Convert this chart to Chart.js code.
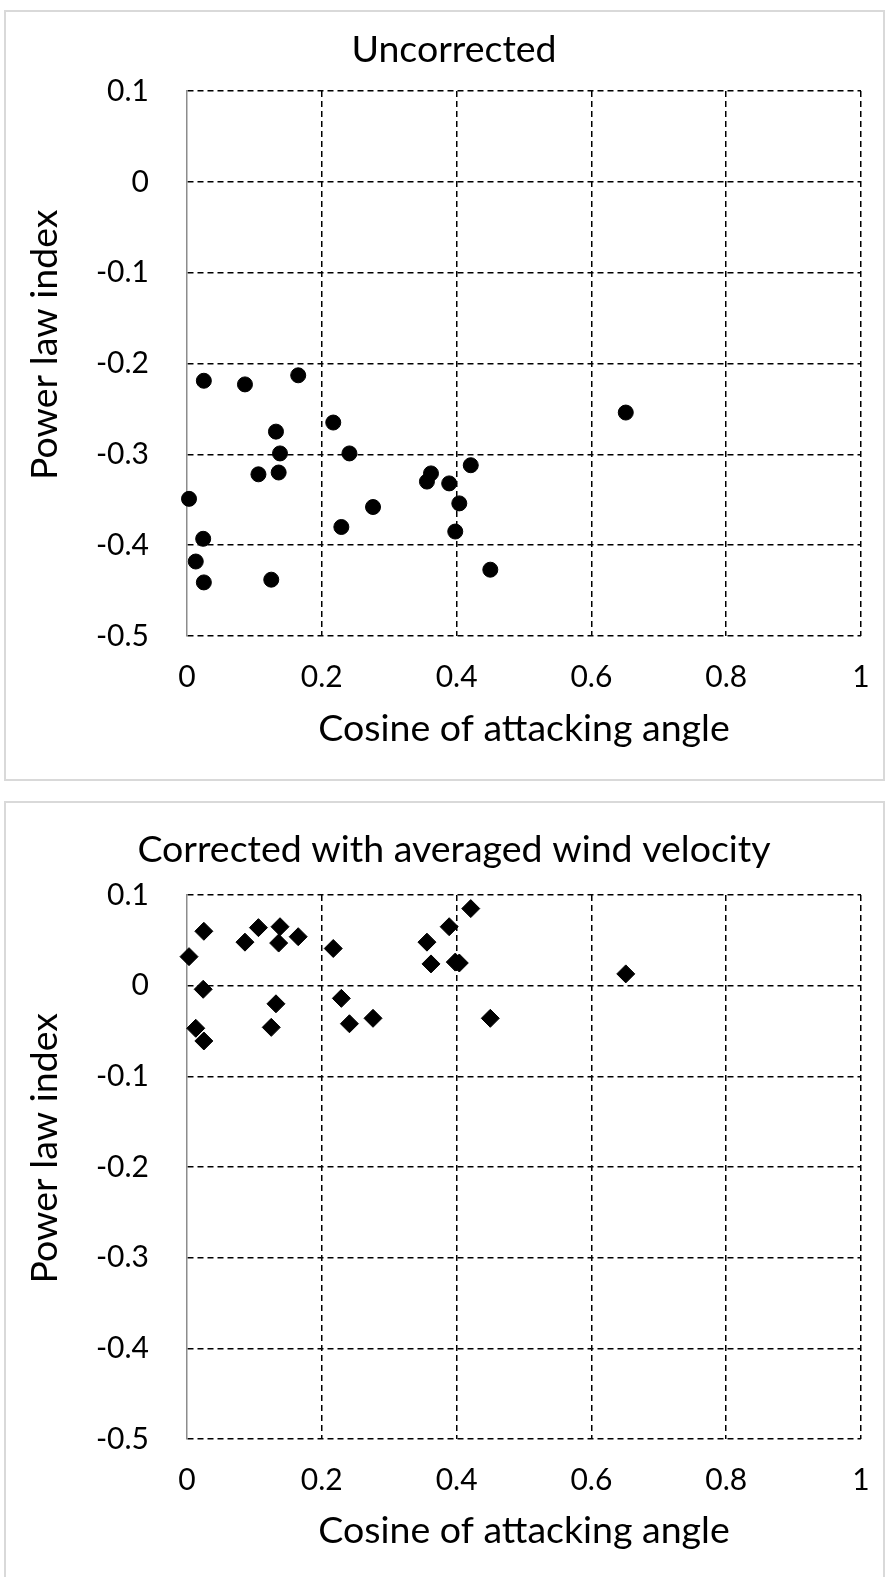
<!DOCTYPE html>
<html lang="en">
<head>
<meta charset="UTF-8">
<title>Power law index vs cosine of attacking angle</title>
<script src="https://cdn.jsdelivr.net/npm/chart.js"></script>
<style>
  body { margin: 0; background: #ffffff; font-family: Lato, sans-serif; }
  .card { position: absolute; left: 4px; width: 877px; border: 2px solid #d9d9d9; background: #ffffff; }
  #card1 { top: 10px; height: 767px; }
  #card2 { top: 801px; height: 777px; }
  canvas { display: block; }
</style>
</head>
<body>
<div class="card" id="card1"><canvas id="uncorrected" width="877" height="767"></canvas></div>
<div class="card" id="card2"><canvas id="corrected" width="877" height="777"></canvas></div>
<script>
// cosine of attacking angle, shared by both panels
const cosAngle = [0.003, 0.013, 0.024, 0.025, 0.025, 0.086, 0.106, 0.125, 0.132, 0.136, 0.138, 0.165,
                  0.217, 0.229, 0.241, 0.276, 0.356, 0.362, 0.389, 0.398, 0.404, 0.421, 0.450, 0.651];
const indexUncorrected = [-0.349, -0.418, -0.393, -0.219, -0.441, -0.223, -0.322, -0.438, -0.275, -0.320, -0.299, -0.213,
                          -0.265, -0.380, -0.299, -0.358, -0.330, -0.321, -0.332, -0.385, -0.354, -0.312, -0.427, -0.254];
const indexCorrected = [0.032, -0.047, -0.004, 0.060, -0.061, 0.048, 0.064, -0.046, -0.020, 0.047, 0.065, 0.054,
                        0.041, -0.014, -0.042, -0.036, 0.048, 0.024, 0.065, 0.026, 0.025, 0.085, -0.036, 0.013];

const xTicks = [0, 0.2, 0.4, 0.6, 0.8, 1];
const xTickLabels = ['0', '0.2', '0.4', '0.6', '0.8', '1'];
const yTicks = [-0.5, -0.4, -0.3, -0.2, -0.1, 0, 0.1];
const yTickLabels = ['-0.5', '-0.4', '-0.3', '-0.2', '-0.1', '0', '0.1'];

const textColor = '#000000';
const gridDash = [6, 4];

function makeChart(id, title, values, style, radius, lay) {
    const ctx = document.getElementById(id).getContext('2d');
    const points = cosAngle.map((x, i) => ({ x: x, y: values[i] }));
    return new Chart(ctx, {
        type: 'scatter',
        data: {
            datasets: [{
                data: points,
                pointStyle: style,
                pointRadius: radius,
                pointBackgroundColor: '#000000',
                pointBorderColor: '#000000',
                pointBorderWidth: 1,
                clip: false
            }]
        },
        options: {
            responsive: false,
            animation: false,
            layout: { padding: { left: 41, right: 22, top: 0, bottom: 0 } },
            scales: {
                x: {
                    type: 'linear',
                    min: 0,
                    max: 1,
                    afterBuildTicks: axis => { axis.ticks = xTicks.map(v => ({ value: v })); },
                    afterFit: axis => {
                        axis.height = lay.xHeight;
                        axis.paddingLeft = 0;
                        axis.paddingRight = 0;
                    },
                    grid: {
                        color: c => (c.tick && c.tick.value === 0) ? 'rgba(0,0,0,0)' : '#000000',
                        lineWidth: 1.5,
                        drawTicks: false
                    },
                    border: { display: false, dash: gridDash },
                    ticks: {
                        color: textColor,
                        font: { family: 'Lato', size: 30 },
                        padding: 23,
                        maxRotation: 0,
                        callback: v => xTickLabels[xTicks.indexOf(v)]
                    },
                    title: {
                        display: true,
                        text: 'Cosine of attacking angle',
                        color: textColor,
                        font: { family: 'Lato', size: 37.5 },
                        padding: { top: 0, bottom: lay.xTitlePad }
                    }
                },
                y: {
                    type: 'linear',
                    min: -0.5,
                    max: 0.1,
                    afterBuildTicks: axis => { axis.ticks = yTicks.map(v => ({ value: v })); },
                    afterFit: axis => { axis.width = 140; },
                    grid: {
                        color: '#000000',
                        lineWidth: 1.5,
                        drawTicks: false
                    },
                    border: { display: true, color: '#8c8c8c', width: 1.5, dash: gridDash },
                    ticks: {
                        color: textColor,
                        font: { family: 'Lato', size: 30 },
                        padding: 38,
                        callback: v => yTickLabels[yTicks.indexOf(v)]
                    },
                    title: {
                        display: true,
                        // leading en spaces nudge the title up, as in the original
                        text: '\u2002\u2002Power law index',
                        color: textColor,
                        font: { family: 'Lato', size: 37.5 },
                        padding: { top: -24.5, bottom: 0 }
                    }
                }
            },
            plugins: {
                legend: { display: false },
                tooltip: { enabled: false },
                title: {
                    display: true,
                    text: title,
                    color: textColor,
                    font: { family: 'Lato', size: 37.5, weight: 'normal' },
                    padding: { top: lay.titleTop, bottom: lay.titleBottom }
                }
            }
        }
    });
}

makeChart('uncorrected', 'Uncorrected', indexUncorrected, 'circle', 7.5,
    { xHeight: 143, xTitlePad: 27.5, titleTop: 15.5, titleBottom: 18.5 });
makeChart('corrected', 'Corrected with averaged wind velocity', indexCorrected, 'rectRot', 9,
    { xHeight: 141, xTitlePad: 27, titleTop: 24.5, titleBottom: 22.5 });
</script>
</body>
</html>
